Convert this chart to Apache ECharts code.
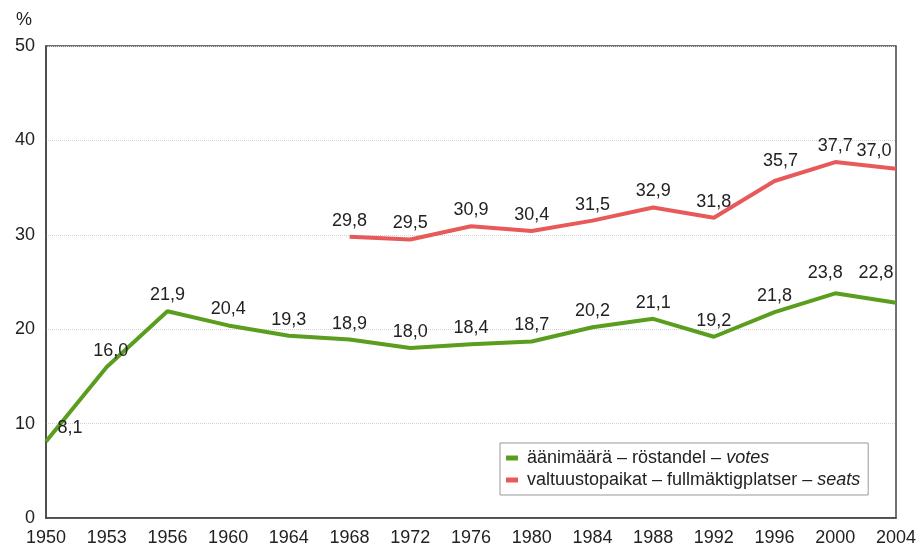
<!DOCTYPE html>
<html>
<head>
<meta charset="utf-8">
<script src="https://cdn.jsdelivr.net/npm/echarts@6/dist/echarts.min.js"></script>
<style>
  html, body { margin: 0; padding: 0; background: #fff; }
  #m1 { width: 924px; height: 548px; }
</style>
</head>
<body>
<div id="m1"></div>
<script>
// 数据
var years = ['1950', '1953', '1956', '1960', '1964', '1968', '1972', '1976', '1980', '1984', '1988', '1992', '1996', '2000', '2004'];
var votes = [8.1, 16.0, 21.9, 20.4, 19.3, 18.9, 18.0, 18.4, 18.7, 20.2, 21.1, 19.2, 21.8, 23.8, 22.8];
var seats = [null, null, null, null, null, 29.8, 29.5, 30.9, 30.4, 31.5, 32.9, 31.8, 35.7, 37.7, 37.0];
var yTicks = [0, 10, 20, 30, 40, 50];

// 标签偏移 (index -> [dx, dy])
var votesOffset = { 0: [24, 2], 1: [4, 0], 13: [-10, -4], 14: [-20, -14] };
var seatsOffset = { 12: [6, -4], 14: [-22, -2] };

function toFi(v) {
    return v.toFixed(1).replace('.', ',');
}

function buildData(values, offsets) {
    return values.map(function (v, i) {
        if (v === null) return null;
        var item = { value: v };
        if (offsets[i]) item.label = { offset: offsets[i] };
        return item;
    });
}

function initChart() {
    var myChart = echarts.init(document.getElementById('m1'));
    var font = 'Liberation Sans, Arial, sans-serif';
    var option = {
        animation: false,
        textStyle: { fontFamily: font },
        grid: {
            left: 46, right: 28, top: 46, bottom: 30,
            show: true, borderColor: '#444', borderWidth: 1.5
        },
        legend: {
            orient: 'vertical',
            left: 500, top: 443,
            padding: [6, 8, 6, 6],
            borderColor: '#999', borderWidth: 1,
            backgroundColor: '#fff',
            icon: 'rect', itemWidth: 12, itemHeight: 5, itemGap: 4,
            data: ['votes', 'seats'],
            formatter: function (name) {
                return name === 'votes'
                    ? 'äänimäärä – röstandel – {i|votes}'
                    : 'valtuustopaikat – fullmäktigplatser – {i|seats}';
            },
            textStyle: {
                fontSize: 18, color: '#222', fontFamily: font, padding: [0, 0, 0, 4],
                rich: { i: { fontStyle: 'italic', fontSize: 18, color: '#222', fontFamily: font } }
            }
        },
        xAxis: {
            type: 'category',
            data: years,
            boundaryGap: false,
            axisLine: { lineStyle: { color: '#444', width: 1.5 } },
            axisTick: { show: false },
            axisLabel: { fontSize: 18, color: '#222', margin: 11, interval: 0 },
            splitLine: { show: false }
        },
        yAxis: {
            type: 'value',
            min: yTicks[0], max: yTicks[yTicks.length - 1], interval: 10,
            name: '%',
            nameLocation: 'end',
            nameGap: 17,
            nameTextStyle: { fontSize: 18, color: '#222', align: 'right', padding: [0, 14, 0, 0] },
            axisLine: { show: true, lineStyle: { color: '#444', width: 1.5 } },
            axisTick: { show: false },
            axisLabel: { fontSize: 18, color: '#222', margin: 11 },
            splitLine: { lineStyle: { color: '#d4d4d4', type: 'dotted', width: 1 } }
        },
        series: [
            {
                name: 'votes',
                type: 'line',
                data: buildData(votes, votesOffset),
                color: '#5b9e1f',
                lineStyle: { width: 4, color: '#5b9e1f' },
                symbol: 'circle',
                symbolSize: 0,
                showSymbol: true,
                label: {
                    show: true, position: 'top', distance: 7,
                    fontSize: 18, color: '#222',
                    formatter: function (p) { return toFi(p.value); }
                }
            },
            {
                name: 'seats',
                type: 'line',
                data: buildData(seats, seatsOffset),
                color: '#e85a5a',
                lineStyle: { width: 4, color: '#e85a5a' },
                symbol: 'circle',
                symbolSize: 0,
                showSymbol: true,
                label: {
                    show: true, position: 'top', distance: 7,
                    fontSize: 18, color: '#222',
                    formatter: function (p) { return toFi(p.value); }
                }
            }
        ]
    };
    myChart.setOption(option);
}

initChart();
</script>
</body>
</html>
